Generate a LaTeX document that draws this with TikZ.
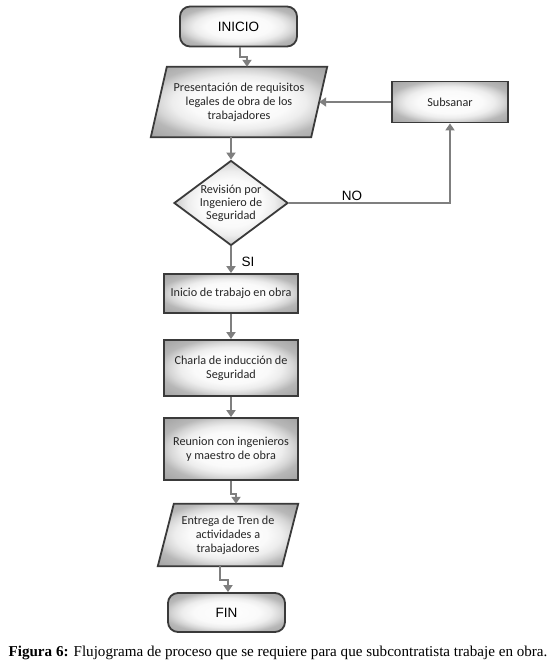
\documentclass[tikz,border=0pt]{standalone}
\usepackage{fontspec}
\setmainfont{Liberation Serif}
\newfontfamily\boxfont{Carlito}
\newfontfamily\armfont{Liberation Sans}
\usetikzlibrary{shapes.geometric,arrows.meta,backgrounds,calc}
\pgfdeclareradialshading{glow}{\pgfpoint{0bp}{0bp}}{color(0bp)=(white); color(14bp)=(white!98!black); color(19bp)=(white!93!black); color(23bp)=(white!84!black); color(27bp)=(white!72!black); color(35bp)=(white!64!black); color(50bp)=(white!64!black)}
\definecolor{bord}{HTML}{3A3A3A}
\definecolor{conncol}{HTML}{7F7F7F}
\begin{document}
\begin{tikzpicture}[x=1pt,y=-1pt,
  base/.style={draw=bord, line width=1.8pt, shade, shading=glow, inner sep=0pt, align=center,
    font=\boxfont\fontsize{12.2}{14}\selectfont, text=black!85},
  term/.style={base, rectangle, rounded corners=10pt, minimum width=117pt, minimum height=40pt,
    font=\armfont\fontsize{13.5}{16}\selectfont, text=black},
  procbox/.style={base, rectangle, minimum width=134pt},
  paraholder/.style={inner sep=0pt, align=center, font=\boxfont\fontsize{12.2}{14}\selectfont, text=black!85},
  paraface/.style={draw=bord, line width=1.8pt, shading=glow},
  decision/.style={base, diamond, minimum width=114pt, minimum height=85pt},
  lbl/.style={inner sep=0pt, align=center, font=\boxfont\fontsize{12.2}{13}\selectfont, text=black!85},
  tag/.style={inner sep=0pt, font=\armfont\fontsize{13.5}{16}\selectfont, text=black},
  conn/.style={draw=conncol, line width=1.8pt},
  arr/.style={conn, -{Triangle[length=7pt,width=9pt]}},
]
\useasboundingbox (0,0) rectangle (553,668);

\node[term] (ini) at (238.5,26.5) {INICIO};

\node[paraholder, minimum width=176pt, minimum height=70pt] (p1) at (239,102)
  {Presentación de requisitos\\legales de obra de los\\trabajadores};
\coordinate (p1top) at ([xshift=8pt]p1.north);
\coordinate (p1bot) at ([xshift=-8pt]p1.south);
\coordinate (p1right) at ([xshift=-8pt]p1.east);

\node[base, rectangle, minimum width=116pt, minimum height=41pt] (sub) at (450,102) {Subsanar};

\node[decision, label={[lbl]center:Revisión por\\Ingeniero de\\Seguridad}] (d) at (231,203) {};

\node[procbox, minimum height=39pt] (b1) at (231,293.5) {Inicio de trabajo en obra};
\node[procbox, minimum height=56pt] (b2) at (231,368) {Charla de inducción de\\Seguridad};
\node[procbox, minimum height=62pt] (b3) at (231,449) {Reunion con ingenieros\\y maestro de obra};

\node[paraholder, minimum width=140pt, minimum height=62pt] (p2) at (228,535)
  {Entrega de Tren de\\actividades a\\trabajadores};
\coordinate (p2top) at ([xshift=8pt]p2.north);
\coordinate (p2bot) at ([xshift=-8pt]p2.south);

\node[term, minimum height=39pt] (fin) at (226.5,612.5) {FIN};

\begin{scope}[on background layer]
  \shade[paraface] (p1.south west) -- ([xshift=-16pt]p1.south east) -- (p1.north east) -- ([xshift=16pt]p1.north west) -- cycle;
  \shade[paraface] (p2.south west) -- ([xshift=-16pt]p2.south east) -- (p2.north east) -- ([xshift=16pt]p2.north west) -- cycle;
\end{scope}

\draw[arr] ([xshift=1.5pt]ini.south) -- ++(0,10) -| (p1top);
\draw[arr] (p1bot) -- (d.north);
\draw[arr] (d.east) -| (sub.south);
\draw[arr] (sub.west) -- (p1right);
\draw[arr] (d.south) -- (b1.north);
\draw[arr] (b1.south) -- (b2.north);
\draw[arr] (b2.south) -- (b3.north);
\draw[arr] (b3.south) -- ++(0,13) -| (p2top);
\draw[arr] (p2bot) -- ++(0,14) -| ([xshift=1.5pt]fin.north);

\node[tag] (no) at (352,196) {NO};
\node[tag] (si) at (248,262) {SI};

\node[inner sep=0pt, font=\fontsize{15.1}{17}\selectfont] (cap) at (278,653)
  {\textbf{Figura 6:} Flujograma de proceso que se requiere para que subcontratista trabaje en obra.};
\end{tikzpicture}
\end{document}
